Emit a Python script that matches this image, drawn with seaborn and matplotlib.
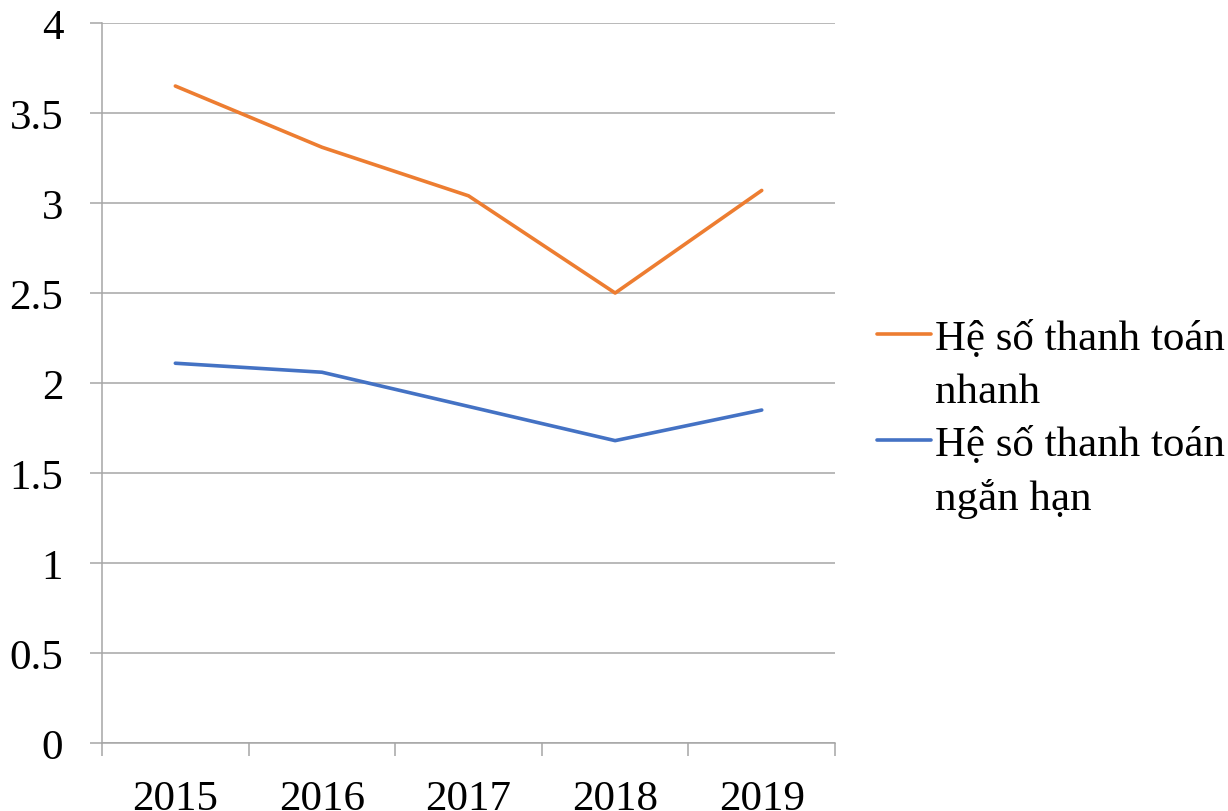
import numpy as np
import pandas as pd
import matplotlib.pyplot as plt
from matplotlib.lines import Line2D
import seaborn as sns

sns.set_style('white')
plt.rcParams.update({
    "font.family": ["Liberation Serif", "DejaVu Serif"],
    "font.size": 31,
    "text.color": "black",
    "xtick.color": "black",
    "ytick.color": "black",
    "xtick.bottom": True,
    "ytick.left": True})

years = ['2015', '2016', '2017', '2018', '2019']
quick_ratio = [3.65, 3.31, 3.04, 2.50, 3.07]
current_ratio = [2.11, 2.06, 1.87, 1.68, 1.85]
series_names = ['Hệ số thanh toán\nnhanh', 'Hệ số thanh toán\nngắn hạn']
colors = ['#ED7D31', '#4472C4']

df = pd.DataFrame({
    'pos': list(range(len(years))) * 2,
    'value': quick_ratio + current_ratio,
    'series': [series_names[0]] * len(years) + [series_names[1]] * len(years),
})

fig = plt.figure(figsize=(12.28, 8.12), dpi=100)
ax = fig.add_axes([0.0831, 0.0837, 0.5969, 0.8867])

sns.lineplot(data=df, x='pos', y='value', hue='series', palette=colors,
             linewidth=2.6, legend=False, ax=ax)

grid_c = '#a6a6a6'
ax.set_ylim(0, 4)
ax.set_yticks(np.arange(0, 4.01, 0.5))
ax.set_yticklabels(['0', '0.5', '1', '1.5', '2', '2.5', '3', '3.5', '4'])
ax.set_xlim(-0.5, len(years) - 0.5)
ax.set_xticks(np.arange(-0.5, len(years), 1.0))
ax.set_xticklabels([])
ax.set_xticks(range(len(years)), minor=True)
ax.set_xticklabels(years, minor=True)
ax.tick_params(axis='x', which='major', length=9, width=1.1, color=grid_c,
               direction='out', bottom=True)
ax.tick_params(axis='x', which='minor', length=0, pad=26, labelcolor='black')
ax.tick_params(axis='y', length=9, width=1.1, color=grid_c, pad=19,
               direction='out', left=True, labelcolor='black')
ax.grid(axis='y', color=grid_c, linewidth=1.1)
ax.set_axisbelow(True)
for s in ['top', 'right']:
    ax.spines[s].set_visible(False)
for s in ['left', 'bottom']:
    ax.spines[s].set_color(grid_c)
    ax.spines[s].set_linewidth(1.1)
ax.set_xlabel('')
ax.set_ylabel('')

handles = [Line2D([], [], color=colors[0], lw=2.6), Line2D([], [], color='none'),
           Line2D([], [], color=colors[1], lw=2.6), Line2D([], [], color='none')]
labels = ['Hệ số thanh toán', 'nhanh', 'Hệ số thanh toán', 'ngắn hạn']
fig.legend(handles, labels, loc='upper left', bbox_to_anchor=(0.7, 0.627),
           frameon=False, handlelength=1.25, handletextpad=0.1,
           labelspacing=0.32, borderaxespad=0)

fig.savefig('out.png', dpi=100)
